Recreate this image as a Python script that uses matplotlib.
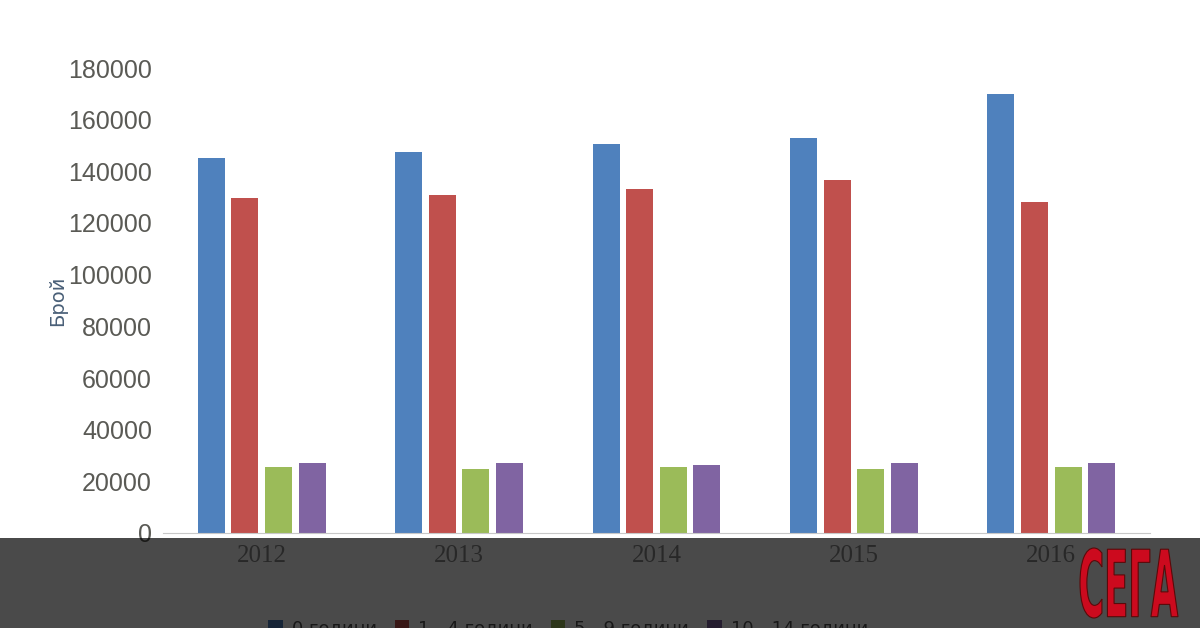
import matplotlib.pyplot as plt
import numpy as np
from matplotlib.patches import Rectangle, PathPatch
from matplotlib.textpath import TextPath
from matplotlib.font_manager import FontProperties
from matplotlib.transforms import Affine2D

years = ['2012', '2013', '2014', '2015', '2016']
series_names = ['0 години', '1 - 4 години', '5 - 9 години', '10 - 14 години']
values_0 = [145200, 147500, 150600, 152900, 170100]
values_1_4 = [129500, 131000, 133000, 136800, 128000]
values_5_9 = [25700, 24900, 25700, 24900, 25700]
values_10 = [27200, 27200, 26400, 27200, 27200]
colors = ['#4f81bd', '#c0504d', '#9bbb59', '#8064a2']

fig = plt.figure(figsize=(12, 6.28), dpi=100)
ax = fig.add_axes([163 / 1200, 95 / 628, 987 / 1200, 465 / 628])

x = np.arange(len(years))
step = 0.17
width = 0.137
all_vals = [values_0, values_1_4, values_5_9, values_10]
for i, vals in enumerate(all_vals):
    ax.bar(x + (i - 1.5) * step, vals, width, color=colors[i], label=series_names[i])

ax.set_xlim(-0.5, 4.5)
ax.set_ylim(0, 180000)
ax.set_yticks(np.arange(0, 180001, 20000))
ax.set_xticks(x)
ax.set_xticklabels(years, family='Liberation Serif', fontsize=18, color='#8a8a8a')
ax.tick_params(axis='y', length=0, pad=8, labelsize=18, labelcolor='#5a5a55')
ax.tick_params(axis='x', length=0, pad=9)
for lab in ax.get_yticklabels():
    lab.set_family('Liberation Sans')
for s in ['top', 'right', 'left']:
    ax.spines[s].set_visible(False)
ax.spines['bottom'].set_color('#c8c8c8')
ax.set_ylabel('Брой', fontsize=14, color='#4a6078', family='DejaVu Sans')
ax.yaxis.set_label_coords(-0.097, 0.5)

leg = fig.legend(loc='center left', bbox_to_anchor=(252 / 1200, 0.0), ncol=4,
                 frameon=False, fontsize=13, handlelength=0.8, handleheight=0.8,
                 columnspacing=1.0, handletextpad=0.5)
for t in leg.get_texts():
    t.set_color('#555555')

# dark band over the bottom of the chart
band = Rectangle((0, 0), 1, 90 / 628, transform=fig.transFigure, facecolor='black',
                 edgecolor='none', alpha=0.71, zorder=10)
fig.patches.append(band)

# logo
tp = TextPath((0, 0), 'СЕГА', prop=FontProperties(family='DejaVu Sans', weight='bold'), size=1)
ext = tp.get_extents()
sx = 98 / ext.width
sy = 70 / ext.height
tr = Affine2D().translate(-ext.x0, -ext.y0).scale(sx, sy).translate(1080, 628 - 618)
logo = PathPatch(tr.transform_path(tp), facecolor='#cc0a1e', edgecolor='#5a0a0a',
                 lw=0.8, transform=None, zorder=11)
fig.patches.append(logo)

fig.savefig('out.png', dpi=100)
